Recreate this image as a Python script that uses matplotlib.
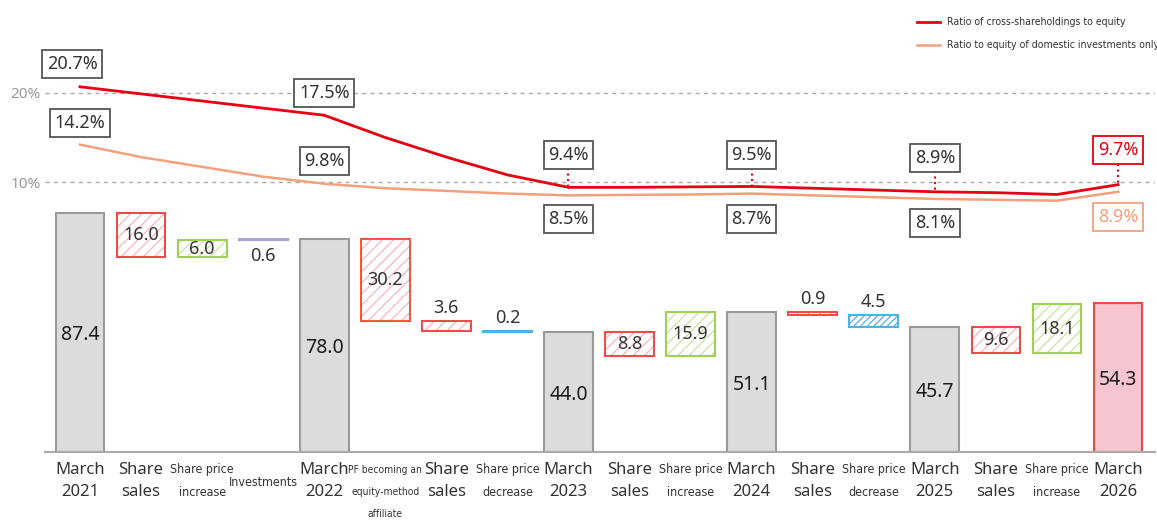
import matplotlib
matplotlib.use('Agg')
import matplotlib.pyplot as plt
from matplotlib.lines import Line2D
from matplotlib import font_manager

# chart data
categories = ['March\n2021', 'Share\nsales', 'Share price\nincrease', 'Investments',
              'March\n2022', 'PF becoming an\nequity-method\naffiliate', 'Share\nsales',
              'Share price\ndecrease', 'March\n2023', 'Share\nsales', 'Share price\nincrease',
              'March\n2024', 'Share\nsales', 'Share price\ndecrease', 'March\n2025',
              'Share\nsales', 'Share price\nincrease', 'March\n2026']
kinds = ['total', 'sales', 'increase', 'invest', 'total', 'pf', 'sales', 'decrease',
         'total', 'sales', 'increase', 'total', 'sales', 'decrease', 'total',
         'sales', 'increase', 'last']
values = [87.4, -16.0, 6.0, 0.6, 78.0, -30.2, -3.6, -0.2, 44.0, -8.8, 15.9,
          51.1, -0.9, -4.5, 45.7, -9.6, 18.1, 54.3]

ratio_cross = [20.7, 19.9, 19.1, 18.3, 17.5, 15.0, 12.8, 10.8, 9.4, 9.4, 9.45,
               9.5, 9.3, 9.1, 8.9, 8.8, 8.6, 9.7]
ratio_domestic = [14.2, 12.8, 11.7, 10.6, 9.8, 9.3, 9.0, 8.7, 8.5, 8.55, 8.6,
                  8.7, 8.5, 8.3, 8.1, 8.0, 7.9, 8.9]

W, H = 1157, 523
MAIN = ['Noto Sans', 'DejaVu Sans']

# pick the narrowest regular face that is installed
rank = {'extra-condensed': 1, 'ultra-condensed': 2, 'condensed': 0,
        '300': 0, '200': 1, 'semi-condensed': 3, '400': 3}
best = None
for f in font_manager.fontManager.ttflist:
    st = str(f.stretch).lower()
    r = rank.get(st)
    name = f.name.lower()
    if r is None and ('narrow' in name or 'condensed' in name):
        r = 0 if 'semi' not in name else 3
    if r is None or f.style != 'normal' or f.weight not in (400, 'normal', 'regular'):
        continue
    if best is None or r < best[0]:
        best = (r, f.fname)
if best is not None:
    NARROW = dict(fontproperties=font_manager.FontProperties(fname=best[1]))
else:
    NARROW = dict(family=['Roboto', 'DejaVu Sans'])

RED = '#e60012'
ORANGE = '#f5a07c'
plt.rcParams['hatch.linewidth'] = 0.9

fig = plt.figure(figsize=(W / 100, H / 100), dpi=100)
renderer = fig.canvas.get_renderer()


def fit_size(txt, target_px, base=10):
    t = fig.text(0, 0, txt, fontsize=base, **NARROW)
    w = t.get_window_extent(renderer).width
    t.remove()
    return min(base * target_px / w, 11)


nsize = fit_size('Share price', 64)
psize = fit_size('PF becoming an', 74)
lsize = fit_size('Ratio of cross-shareholdings to equity', 180)

ax = fig.add_axes([45 / W, 71 / H, 1110 / W, 452 / H])
ax.set_xlim(-0.573, 17.605)
ax.set_ylim(0, 452 / 2.735)
for s in ['top', 'right', 'left']:
    ax.spines[s].set_visible(False)
ax.spines['bottom'].set_color('#aaaaaa')
ax.spines['bottom'].set_linewidth(1.5)
ax.set_xticks([])
ax.set_yticks([])

styles = {
    'sales': ('#f04b4b', '#f6b7bb', '///'),
    'pf': ('#f2573a', '#f6b7bb', '///'),
    'increase': ('#9fcf55', '#c9e3a3', '///'),
    'decrease': ('#4db3e6', '#4db3e6', '/////'),
}

run = 0.0
bw = 0.8
for i, (k, v) in enumerate(zip(kinds, values)):
    if k in ('total', 'last'):
        fc = '#f7c5cf' if k == 'last' else '#dcdcdc'
        ec = '#ee4b3a' if k == 'last' else '#9a9a9a'
        ax.bar(i, v, bw, color=fc, edgecolor=ec, linewidth=1.5, zorder=2)
        ax.text(i, v / 2 - 1, f'{v:.1f}', ha='center', va='center', fontsize=14,
                color='#1a1a1a', family=MAIN, fontweight='semibold', zorder=5)
        run = v
        continue
    bottom = min(run, run + v)
    h = abs(v)
    top = bottom + h
    run = run + v
    if k == 'invest':
        ax.bar(i, h, bw, bottom=bottom, color='#a9a3d6', edgecolor='#a9a3d6',
               linewidth=1.5, zorder=2)
        ax.text(i, bottom - 2.5, f'{h:.1f}', ha='center', va='top', fontsize=13,
                color='#333333', family=MAIN)
        continue
    ec, hc, hatch = styles[k]
    if h < 0.5:
        ax.bar(i, h, bw, bottom=bottom, color=ec, edgecolor=ec, linewidth=1.5, zorder=2)
    else:
        ax.bar(i, h, bw, bottom=bottom, color='white', edgecolor=hc, hatch=hatch,
               linewidth=0, zorder=2)
        ax.bar(i, h, bw, bottom=bottom, fill=False, edgecolor=ec, linewidth=1.5, zorder=3)
    if h < 6:
        ax.text(i, top + 1.5, f'{h:.1f}', ha='center', va='bottom', fontsize=13,
                color='#333333', family=MAIN, zorder=5)
    else:
        ax.text(i, bottom + h / 2, f'{h:.1f}', ha='center', va='center', fontsize=13,
                color='#333333', family=MAIN, zorder=5)

# category labels under the axis
xt = ax.get_xaxis_transform()
for i, lab in enumerate(categories):
    lines = lab.split('\n')
    narrow = not (lab.startswith('March') or lab.startswith('Share\n'))
    y0 = 483 if len(lines) == 1 else 470
    for j, ln in enumerate(lines):
        ypx = y0 + 22 * j
        if narrow:
            kw = dict(NARROW, fontsize=psize if lab.startswith('PF') else nsize)
        else:
            kw = dict(family=MAIN, fontsize=12)
        ax.text(i, (452 - ypx) / 452, ln, transform=xt, ha='center', va='center',
                color='#333333', clip_on=False, **kw)

# ratio lines
ax2 = ax.twinx()
ax2.set_ylim(20 - 359 / 8.9, 20 + 93 / 8.9)
for s in ax2.spines.values():
    s.set_visible(False)
ax2.yaxis.tick_left()
ax2.set_yticks([10, 20])
ax2.set_yticklabels(['10%', '20%'], family=MAIN, fontsize=11, color='#999999')
ax2.tick_params(axis='y', length=0, pad=3)
ax2.grid(axis='y', color='#aaaaaa', linestyle=(0, (3, 3)), linewidth=1)

x = list(range(len(categories)))
ax2.plot(x, ratio_cross, color=RED, lw=2, zorder=4)
ax2.plot(x, ratio_domestic, color=ORANGE, lw=1.8, zorder=3)


def pbox(xi, y, val, color='#555555', tcolor='#333333'):
    ax2.text(xi, y, f'{val:.1f}%', ha='center', va='center', fontsize=13,
             family=MAIN, color=tcolor, zorder=6,
             bbox=dict(boxstyle='square,pad=0.25', fc='white', ec=color, lw=1.3))


def pct(ypx):
    return 20 - (ypx - 93) / 8.9


pbox(-0.13, pct(64), ratio_cross[0])
pbox(0.0, pct(123), ratio_domestic[0])
pbox(4, pct(93), ratio_cross[4])
pbox(4, pct(161), ratio_domestic[4])
for i, ytop, ybot in [(8, 155, 219), (11, 155, 219), (14, 158, 223)]:
    pbox(i, pct(ytop), ratio_cross[i])
    pbox(i, pct(ybot), ratio_domestic[i])
    ax2.plot([i, i], [pct(ytop + 13), ratio_cross[i]], color=RED, ls=':', lw=1.5, zorder=5)
pbox(17, pct(150), ratio_cross[17], color=RED, tcolor=RED)
pbox(17, pct(217), ratio_domestic[17], color=ORANGE, tcolor=ORANGE)
ax2.plot([17, 17], [pct(164), ratio_cross[17]], color=RED, ls=':', lw=1.5, zorder=5)

# legend
for ypx, c, lw, txt in [(22, RED, 2, 'Ratio of cross-shareholdings to equity'),
                        (45, ORANGE, 1.8, 'Ratio to equity of domestic investments only')]:
    fig.add_artist(Line2D([917 / W, 940 / W], [1 - ypx / H] * 2, color=c, lw=lw,
                          transform=fig.transFigure))
    kw = dict(NARROW, fontsize=lsize)
    fig.text(947 / W, 1 - ypx / H, txt, ha='left', va='center', color='#333333', **kw)

fig.savefig('out.png', dpi=100)
